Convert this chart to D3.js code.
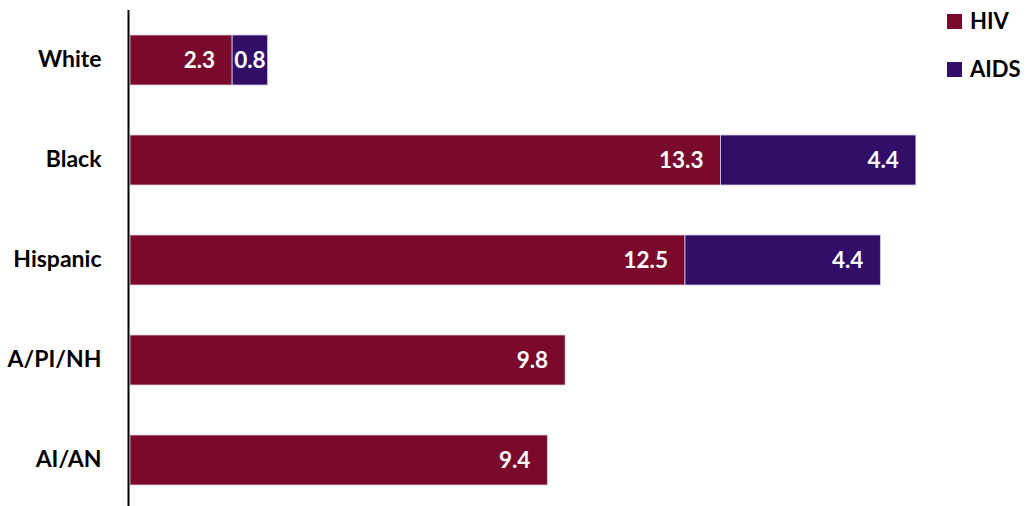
<!DOCTYPE html>
<html><head><meta charset="utf-8">
<script src="https://cdn.jsdelivr.net/npm/d3@7"></script>
<style>body{margin:0;background:#fff}svg{display:block}text{font-family:Lato,"Open Sans",sans-serif;font-weight:700}</style>
</head><body><svg id="c" width="1028" height="506"></svg>
<script>
const categories = ["White","Black","Hispanic","A/PI/NH","AI/AN"];
const hivValues = [2.3, 13.3, 12.5, 9.8, 9.4];
const aidsValues = [0.8, 4.4, 4.4, null, null];
const seriesNames = ["HIV","AIDS"];
const colors = ["#7A0A2B","#320E68"];

const svg = d3.select("#c");
const x = d3.scaleLinear().domain([0,20]).range([130,1018]);
const y = d3.scaleBand().domain(categories).range([10,510]).paddingInner(0.5).paddingOuter(0.25);

const rows = categories.map((c,i)=>({cat:c, segs:[
  {s:0, x0:0, x1:hivValues[i], v:hivValues[i]},
  aidsValues[i]==null?null:{s:1, x0:hivValues[i], x1:hivValues[i]+aidsValues[i], v:aidsValues[i]}
].filter(Boolean)}));

const g = svg.append("g");
rows.forEach(r=>{
  r.segs.forEach(sg=>{
    g.append("rect").attr("x",x(sg.x0)).attr("y",y(r.cat)).attr("width",x(sg.x1)-x(sg.x0)).attr("height",y.bandwidth())
      .attr("fill",colors[sg.s]).attr("stroke","#d6cde6").attr("stroke-width",0.8);
  });
  r.segs.forEach(sg=>{
    const w = x(sg.x1)-x(sg.x0);
    const t = g.append("text").attr("y",y(r.cat)+y.bandwidth()/2).attr("dy","0.36em")
      .attr("fill","#fff").attr("font-size",22.5).text(sg.v.toFixed(1));
    const tw = t.node().getComputedTextLength();
    if (w < tw + 30) t.attr("x",(x(sg.x0)+x(sg.x1))/2).attr("text-anchor","middle");
    else t.attr("x",x(sg.x1)-17).attr("text-anchor","end");
  });
});

// axis
const ax = svg.append("g").attr("transform","translate(128.5,0)")
  .call(d3.axisLeft(y).tickSize(0).tickPadding(27));
ax.select(".domain").attr("d","M0,10V506").attr("stroke","#000").attr("stroke-width",2);
ax.selectAll("text").attr("font-size",23).attr("fill","#000").style("font-family","Lato,'Open Sans',sans-serif").style("font-weight",700);

// legend
const leg = svg.append("g");
seriesNames.forEach((n,i)=>{
  leg.append("rect").attr("x",947).attr("y",14+i*48).attr("width",15).attr("height",15).attr("fill",colors[i]);
  leg.append("text").attr("x",970).attr("y",21.5+i*48).attr("dy","0.36em").attr("font-size",22).attr("fill","#000").text(n);
});
</script></body></html>
